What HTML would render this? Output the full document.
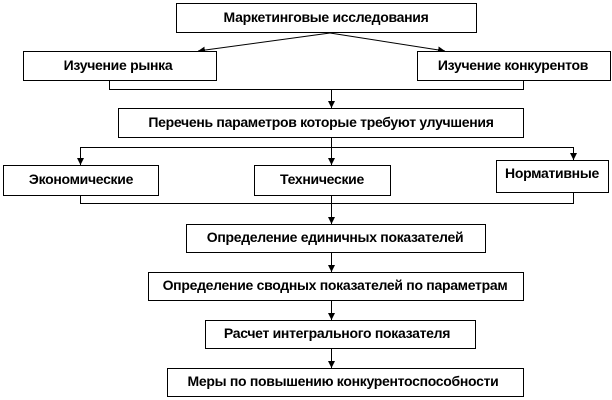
<!DOCTYPE html>
<html><head><meta charset="utf-8"><style>
body{margin:0;background:#fff;width:612px;height:400px;overflow:hidden}
svg{display:block}
text{font-family:"Liberation Sans",sans-serif;font-size:14px;font-weight:bold;letter-spacing:-0.3px;text-anchor:middle;fill:#000}
rect{fill:#fff;stroke:#000;stroke-width:1}
line,polyline{stroke:#000;stroke-width:1;fill:none}
</style></head><body>
<svg width="612" height="400" viewBox="0 0 612 400">
<defs><marker id="a" viewBox="0 0 10 10" refX="10" refY="5" markerWidth="7" markerHeight="7" orient="auto"><path d="M0,0 L10,5 L0,10 z" fill="#000"/></marker></defs>
<rect x="176.5" y="3.5" width="300" height="29"/>
<text x="326" y="22">Маркетинговые исследования</text>
<line x1="330" y1="33" x2="198" y2="51" marker-end="url(#a)"/>
<line x1="330" y1="33" x2="445" y2="51" marker-end="url(#a)"/>
<rect x="23.5" y="51.5" width="193" height="29"/>
<text x="118" y="70">Изучение рынка</text>
<rect x="417.5" y="51.5" width="193" height="29"/>
<text x="513" y="70">Изучение конкурентов</text>
<polyline points="109.5,80 109.5,89.5 523.5,89.5 523.5,80"/>
<line x1="331.5" y1="89" x2="331.5" y2="108" marker-end="url(#a)"/>
<rect x="118.5" y="108.5" width="405" height="29"/>
<text x="321" y="127">Перечень параметров которые требуют улучшения</text>
<line x1="331.5" y1="137" x2="331.5" y2="147"/>
<polyline points="80.5,147.5 573.5,147.5"/>
<line x1="80.5" y1="147" x2="80.5" y2="165" marker-end="url(#a)"/>
<line x1="331.5" y1="147" x2="331.5" y2="165" marker-end="url(#a)"/>
<line x1="573.5" y1="147" x2="573.5" y2="160" marker-end="url(#a)"/>
<rect x="3.5" y="165.5" width="155" height="30"/>
<text x="81" y="184">Экономические</text>
<rect x="254.5" y="165.5" width="136" height="30"/>
<text x="322" y="184">Технические</text>
<rect x="496.5" y="160.5" width="112" height="32"/>
<text x="552" y="178">Нормативные</text>
<polyline points="80.5,195 80.5,203.5 573.5,203.5 573.5,192"/>
<line x1="331.5" y1="195" x2="331.5" y2="224" marker-end="url(#a)"/>
<rect x="186.5" y="224.5" width="299" height="28"/>
<text x="335" y="242">Определение единичных показателей</text>
<line x1="331.5" y1="253" x2="331.5" y2="272" marker-end="url(#a)"/>
<rect x="148.5" y="272.5" width="375" height="28"/>
<text x="335" y="290">Определение сводных показателей по параметрам</text>
<line x1="331.5" y1="301" x2="331.5" y2="320" marker-end="url(#a)"/>
<rect x="205.5" y="320.5" width="270" height="28"/>
<text x="337" y="338">Расчет интегрального показателя</text>
<line x1="331.5" y1="349" x2="331.5" y2="368" marker-end="url(#a)"/>
<rect x="167.5" y="368.5" width="356" height="28"/>
<text x="343" y="386">Меры по повышению конкурентоспособности</text>
</svg>
</body></html>
